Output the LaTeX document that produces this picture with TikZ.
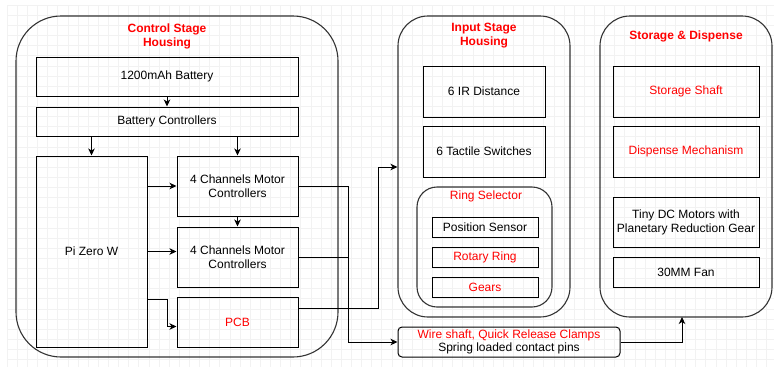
\documentclass[tikz,border=0pt]{standalone}
\usepackage{fontspec}
\setmainfont{Liberation Sans}
\usetikzlibrary{arrows.meta}
\definecolor{hred}{RGB}{255,0,0}
\definecolor{edge}{RGB}{51,51,51}
\begin{document}
\begin{tikzpicture}[x=1pt,y=-1pt,
  every node/.style={font=\fontsize{12pt}{14pt}\selectfont, inner sep=0pt, align=center},
  box/.style={draw=black, line width=1pt, rectangle},
  housing/.style={draw=edge, line width=1.1pt, rectangle},
  title/.style={text=hred, font=\bfseries\fontsize{12pt}{14pt}\selectfont},
  redtxt/.style={text=hred},
  link/.style={draw=black, line width=1pt},
  arr/.style={link, -{Stealth[length=7pt,width=6.5pt,inset=2pt]}},
  gridline/.style={draw=black!5, line width=0.5pt}]
\useasboundingbox (0,0) rectangle (774,368);
% background grid
\foreach \i in {0,...,75} {\draw[gridline] ({7+\i*10.125},5) -- ({7+\i*10.125},367);}
\foreach \j in {0,...,35} {\draw[gridline] (7,{5+\j*10.125}) -- (774,{5+\j*10.125});}

% ---------------- control stage ----------------
\node[housing, rounded corners=45pt, minimum width=322pt, minimum height=341pt] (ctrl) at (177,186.5) {};
\node[title] (ctrlT) at (167,36) {Control Stage\\Housing};
\node[box, minimum width=262pt, minimum height=39pt] (bat) at (167,76.5) {1200mAh Battery};
\node[box, minimum width=262pt, minimum height=29pt] (batc) at (167,121.5) {Battery Controllers};
\node[box, minimum width=111pt, minimum height=191pt] (pi) at (91.5,251.5) {Pi Zero W};
\node[box, minimum width=121pt, minimum height=60pt] (mc1) at (237.5,186) {4 Channels Motor\\Controllers};
\node[box, minimum width=121pt, minimum height=60pt] (mc2) at (237.5,257) {4 Channels Motor\\Controllers};
\node[box, minimum width=121pt, minimum height=50pt, redtxt] (pcb) at (237.5,322) {PCB};

% ---------------- input stage ----------------
\node[housing, rounded corners=30pt, minimum width=172pt, minimum height=301pt] (inp) at (484,166.5) {};
\node[title] (inpT) at (484,36) {Input Stage\\Housing};
\node[box, minimum width=122pt, minimum height=51pt] (ir) at (484,91.5) {6 IR Distance};
\node[box, minimum width=122pt, minimum height=51pt] (tact) at (484,151.5) {6 Tactile Switches};
\node[housing, rounded corners=20pt, minimum width=135pt, minimum height=120pt] (ring) at (484.5,247) {};
\node[redtxt] (ringT) at (486,196) {Ring Selector};
\node[box, minimum width=106pt, minimum height=20pt] (pos) at (485,227) {Position Sensor};
\node[box, minimum width=106pt, minimum height=20pt, redtxt] (rot) at (485,257) {Rotary Ring};
\node[box, minimum width=106pt, minimum height=20pt, redtxt] (gear) at (485,287) {Gears};

% ---------------- storage & dispense ----------------
\node[housing, rounded corners=30pt, minimum width=172pt, minimum height=301pt] (sto) at (686,166.5) {};
\node[title] (stoT) at (686,36) {Storage \& Dispense};
\node[box, minimum width=146pt, minimum height=51pt, redtxt] (shaft) at (686,91.5) {Storage Shaft};
\node[box, minimum width=146pt, minimum height=51pt, redtxt] (disp) at (686,151.5) {Dispense Mechanism};
\node[box, minimum width=146pt, minimum height=50pt] (dc) at (686,222) {Tiny DC Motors with\\Planetary Reduction Gear};
\node[box, minimum width=146pt, minimum height=30pt] (fan) at (686,272) {30MM Fan};

% ---------------- wire shaft ----------------
\node[housing, draw=black, line width=1pt, rounded corners=4pt, minimum width=222pt, minimum height=30pt,
      font=\fontsize{12pt}{13.5pt}\selectfont] (wire) at (509,342)
      {\textcolor{hred}{Wire shaft, Quick Release Clamps}\\Spring loaded contact pins};

% ---------------- bend points ----------------
\coordinate (piA) at (147,299.5);
\coordinate (piB) at (167,299.5);
\coordinate (piC) at (167,326.5);
\coordinate (bus) at (348,186);
\coordinate (busM) at (348,257);
\coordinate (busB) at (348,342);
\coordinate (pcbA) at (298,308);
\coordinate (pcbB) at (378,308);
\coordinate (pcbC) at (378,167);
\coordinate (wireA) at (682,342);
\coordinate (wireB) at (682,317);

% ---------------- connectors ----------------
\draw[arr] (bat) -- (batc);
\draw[arr] (batc.south -| pi.north) -- (pi.north);
\draw[arr] (batc.south -| mc1.north) -- (mc1.north);
\draw[arr] (pi.east |- mc1.west) -- (mc1.west);
\draw[arr] (mc1) -- (mc2);
\draw[arr] (pi.east) -- (mc2.west |- pi.east);
\draw[arr] (piA) -- (piB) -- (piC) -- (pcb.west |- piC);
\draw[arr] (mc1.east) -- (bus) -- (busB) -- (wire.west);
\draw[link] (mc2.east) -- (busM);
\draw[arr] (pcbA) -- (pcbB) -- (pcbC) -- (inp.west |- pcbC);
\draw[arr] (wire.east) -- (wireA) -- (wireB);
\end{tikzpicture}
\end{document}
